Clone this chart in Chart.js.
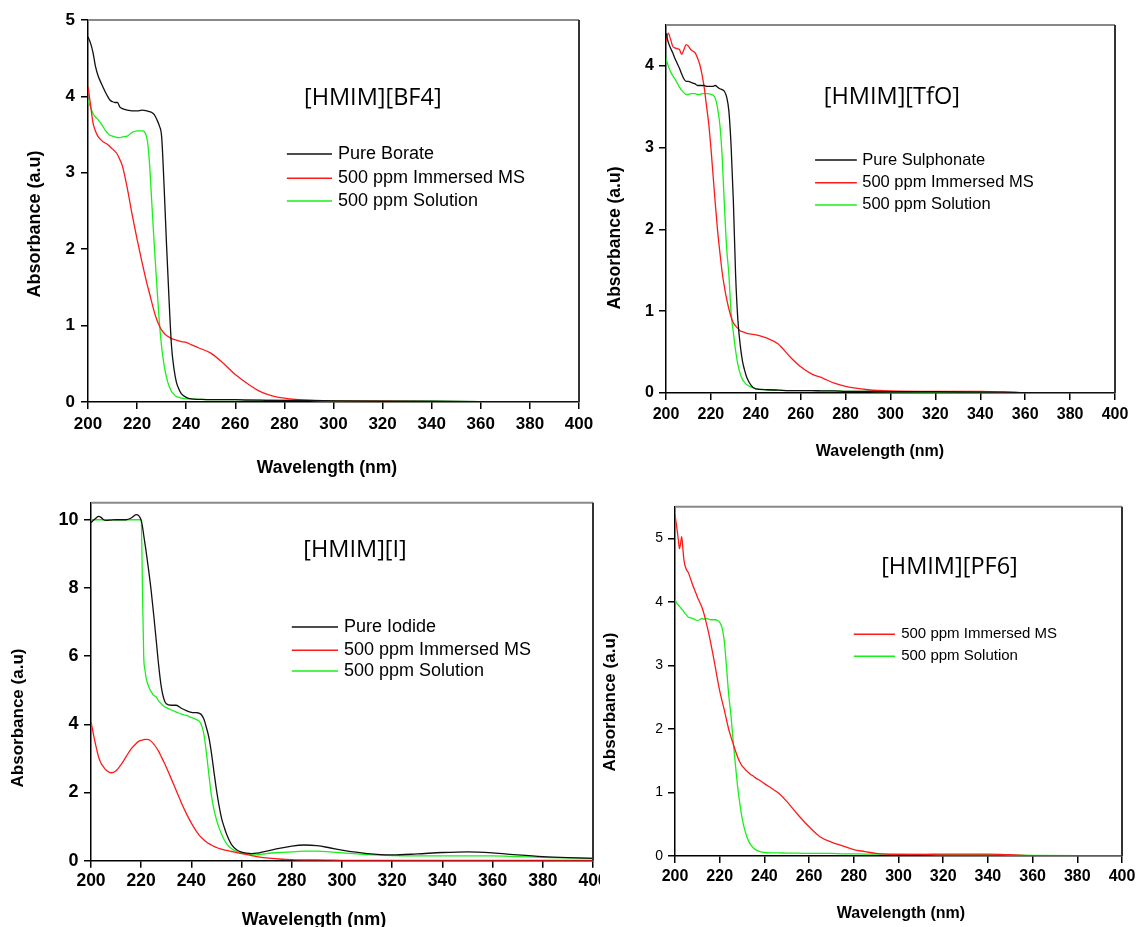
<!DOCTYPE html>
<html>
<head>
<meta charset="utf-8">
<script src="https://cdn.jsdelivr.net/npm/chart.js@4.4.1/dist/chart.umd.min.js"></script>
<style>
html, body { margin: 0; padding: 0; background: #fff; overflow: hidden; }
#page { position: relative; width: 1139px; height: 927px; background: #fff; }
canvas { position: absolute; }
</style>
</head>
<body>
<div id="page">
  <canvas id="c1" width="600" height="480" style="left:0;top:0"></canvas>
  <canvas id="c3" width="600" height="470" style="left:0;top:480px"></canvas>
  <canvas id="c2" width="539" height="480" style="left:600px;top:0;background:#fff"></canvas>
  <canvas id="c4" width="539" height="470" style="left:600px;top:480px;background:#fff"></canvas>
</div>
<script>
// [HMIM][BF4]
const wlBF4 = [200,201,202,203,204,205,206,207,208,209,210,211,212,213,214,216,218,220,222,224,225,226,227,228,229,230,231,232,233,234,235,236,237,238,240,242,245,250,255,260,265,270,275,280,290,300,320,340,360,380,400];
const bf4Pure = [4.78,4.70,4.58,4.40,4.28,4.20,4.13,4.06,4.00,3.95,3.93,3.92,3.92,3.86,3.84,3.82,3.81,3.81,3.82,3.81,3.80,3.79,3.76,3.70,3.62,3.47,2.82,2.05,1.35,0.74,0.44,0.26,0.17,0.11,0.06,0.04,0.035,0.03,0.03,0.03,0.025,0.025,0.02,0.02,0.02,0.015,0.01,0.01,0.005,0.005,0.005];
const bf4MS = [4.13,3.90,3.66,3.55,3.48,3.44,3.41,3.39,3.37,3.34,3.31,3.28,3.24,3.17,3.09,2.80,2.45,2.13,1.83,1.55,1.43,1.30,1.18,1.08,1.00,0.94,0.90,0.87,0.85,0.83,0.82,0.81,0.80,0.79,0.78,0.75,0.71,0.64,0.51,0.36,0.24,0.14,0.08,0.05,0.02,0.01,0.01,0.005,0.005,0.005,0.005];
const bf4Sol = [3.95,3.86,3.78,3.73,3.70,3.66,3.61,3.56,3.52,3.49,3.48,3.47,3.46,3.46,3.47,3.48,3.53,3.55,3.55,3.45,3.15,2.60,2.05,1.55,1.07,0.72,0.48,0.32,0.21,0.14,0.10,0.07,0.06,0.05,0.04,0.04,0.035,0.03,0.03,0.03,0.03,0.025,0.025,0.02,0.02,0.015,0.01,0.01,0.005,0.005,0.005];

// [HMIM][TfO]
const wlTfO = [200,201,202,203,204,205,206,207,208,209,210,211,212,213,214,215,216,217,218,219,220,221,222,223,224,225,226,227,228,229,230,231,232,233,234,235,236,238,240,245,250,255,260,265,270,275,280,290,300,320,340,350,360,380,400];
const tfoPure = [4.40,4.29,4.22,4.16,4.09,4.03,3.97,3.90,3.84,3.81,3.81,3.80,3.79,3.78,3.76,3.76,3.76,3.76,3.75,3.75,3.75,3.75,3.76,3.74,3.72,3.71,3.69,3.62,3.45,3.02,2.35,1.45,0.90,0.60,0.40,0.28,0.19,0.09,0.05,0.04,0.035,0.03,0.03,0.03,0.025,0.025,0.02,0.02,0.015,0.015,0.01,0.01,0.005,0.005,0.005];
const tfoMS = [4.30,4.40,4.33,4.24,4.22,4.21,4.20,4.14,4.20,4.26,4.24,4.20,4.18,4.16,4.10,4.02,3.90,3.74,3.52,3.30,3.00,2.65,2.30,1.98,1.72,1.48,1.30,1.15,1.03,0.93,0.86,0.82,0.79,0.76,0.75,0.74,0.73,0.72,0.71,0.67,0.60,0.45,0.32,0.23,0.18,0.12,0.08,0.04,0.025,0.02,0.02,0.01,0.005,0.005,0.005];
const tfoSol = [4.09,4.00,3.93,3.88,3.84,3.79,3.74,3.70,3.67,3.65,3.65,3.66,3.66,3.66,3.65,3.65,3.66,3.66,3.66,3.66,3.65,3.64,3.60,3.48,3.28,2.90,2.30,1.78,1.45,0.98,0.74,0.52,0.35,0.24,0.17,0.13,0.10,0.07,0.05,0.04,0.035,0.03,0.03,0.03,0.025,0.025,0.02,0.02,0.015,0.01,0.01,0.01,0.005,0.005,0.005];

// [HMIM][I]
const wlI = [200,202,203,204,205,206,208,210,212,214,216,218,219,220,220.5,221,221.5,222,223,224,225,226,227,228,229,230,232,234,236,238,240,242,243,244,245,246,247,248,249,250,251,252,253,254,256,258,260,262,264,266,268,270,275,280,285,290,295,300,310,320,330,340,350,360,370,380,390,400];
const iPure = [9.92,10.05,10.10,10.07,10.00,9.98,9.99,10.00,10.00,10.00,10.05,10.15,10.12,9.98,9.80,9.55,9.30,9.05,8.50,7.90,7.20,6.45,5.70,5.10,4.75,4.60,4.56,4.56,4.47,4.40,4.35,4.34,4.33,4.28,4.15,3.90,3.60,3.15,2.60,2.07,1.62,1.25,1.00,0.78,0.47,0.32,0.25,0.22,0.21,0.22,0.25,0.28,0.36,0.43,0.46,0.44,0.38,0.31,0.21,0.17,0.20,0.24,0.26,0.23,0.17,0.12,0.09,0.07];
const iMS = [4.07,3.35,3.05,2.86,2.75,2.66,2.58,2.64,2.82,3.05,3.28,3.44,3.50,3.53,3.54,3.55,3.56,3.56,3.55,3.50,3.42,3.32,3.20,3.05,2.90,2.74,2.40,2.05,1.70,1.38,1.10,0.86,0.76,0.68,0.61,0.55,0.50,0.46,0.42,0.39,0.36,0.34,0.32,0.30,0.27,0.24,0.21,0.18,0.15,0.12,0.10,0.08,0.05,0.03,0.02,0.02,0.015,0.01,0.01,0.01,0.01,0.01,0.01,0.01,0.01,0.01,0.01,0.01];
const iSol = [10.0,10.0,10.0,10.0,10.0,10.0,10.0,10.0,10.0,10.0,10.0,10.0,10.0,10.0,8.0,6.0,5.6,5.35,5.10,4.95,4.85,4.80,4.68,4.60,4.53,4.49,4.42,4.36,4.30,4.26,4.20,4.14,4.10,3.98,3.70,3.15,2.50,1.90,1.50,1.20,0.97,0.78,0.62,0.50,0.35,0.27,0.23,0.19,0.17,0.17,0.19,0.21,0.24,0.26,0.28,0.28,0.26,0.23,0.18,0.15,0.14,0.14,0.14,0.14,0.12,0.10,0.08,0.07];

// [HMIM][PF6]
const wlPF6 = [200,200.5,201,201.5,202,202.5,203,203.5,204,205,206,207,208,209,210,211,212,213,214,215,216,217,218,219,220,221,222,223,224,225,226,227,228,229,230,231,232,233,234,235,236,238,240,243,246,250,255,260,265,270,275,280,285,290,300,310,320,330,340,350,360,380,400];
const pf6MS = [5.37,5.25,5.12,4.98,4.84,4.92,5.03,4.85,4.66,4.52,4.46,4.36,4.26,4.17,4.08,4.00,3.92,3.81,3.67,3.52,3.35,3.17,2.98,2.78,2.60,2.45,2.31,2.15,2.00,1.88,1.77,1.66,1.56,1.48,1.42,1.38,1.34,1.31,1.28,1.26,1.23,1.19,1.14,1.07,1.00,0.86,0.65,0.46,0.30,0.22,0.16,0.10,0.07,0.04,0.025,0.025,0.03,0.03,0.03,0.02,0.005,0.005,0.005];
const pf6Sol = [4.04,4.00,3.97,3.95,3.93,3.91,3.89,3.87,3.84,3.80,3.76,3.75,3.74,3.72,3.71,3.72,3.74,3.73,3.74,3.73,3.72,3.72,3.72,3.71,3.68,3.60,3.40,3.00,2.55,2.23,1.82,1.45,1.10,0.83,0.60,0.44,0.32,0.23,0.17,0.13,0.10,0.07,0.055,0.05,0.05,0.045,0.045,0.04,0.04,0.04,0.035,0.035,0.03,0.03,0.03,0.025,0.02,0.02,0.02,0.015,0.01,0.005,0.005];

const SANS = '"Liberation Sans", Arial, sans-serif';
const TITLE_FONT = '23.5px "Open Sans", sans-serif';
const BLACK = '#111111', RED = '#ff1a1a', GREEN = '#19f019';

// frame, in-plot title, legend and axis titles
const panelDecor = {
  id: 'panelDecor',
  afterDraw(chart, args, o) {
    const { ctx, chartArea: a } = chart;
    const w = a.right - a.left, h = a.bottom - a.top;
    ctx.save();
    ctx.lineWidth = 2;
    ctx.strokeStyle = '#888';
    ctx.beginPath(); ctx.moveTo(a.left, a.top); ctx.lineTo(a.right, a.top); ctx.stroke();
    ctx.strokeStyle = '#333';
    ctx.beginPath(); ctx.moveTo(a.right, a.top); ctx.lineTo(a.right, a.bottom); ctx.stroke();

    ctx.fillStyle = '#000';
    ctx.textAlign = 'center';
    ctx.textBaseline = 'middle';
    ctx.font = TITLE_FONT;
    ctx.fillText(o.title, a.left + o.titleAt[0] * w, a.top + o.titleAt[1] * h);

    ctx.font = 'bold ' + o.xTitleSize + 'px ' + SANS;
    ctx.fillText('Wavelength (nm)', o.xTitleAt[0], o.xTitleAt[1]);
    ctx.save();
    ctx.translate(o.yTitleAt[0], o.yTitleAt[1]);
    ctx.rotate(-Math.PI / 2);
    ctx.font = 'bold ' + o.yTitleSize + 'px ' + SANS;
    ctx.fillText('Absorbance (a.u)', 0, 0);
    ctx.restore();

    ctx.font = o.legendSize + 'px ' + SANS;
    ctx.textAlign = 'left';
    chart.data.datasets.forEach((ds, i) => {
      const y = a.top + o.legendRows[i] * h;
      ctx.strokeStyle = ds.borderColor;
      ctx.lineWidth = 1.5;
      ctx.beginPath();
      ctx.moveTo(a.left + o.legendLine[0] * w, y);
      ctx.lineTo(a.left + o.legendLine[1] * w, y);
      ctx.stroke();
      ctx.fillText(ds.label, a.left + o.legendText * w, y);
    });
    ctx.restore();
  }
};

function series(wl, vals) {
  return wl.map((x, i) => ({ x: x, y: vals[i] }));
}

function line(label, color, wl, vals) {
  return {
    label: label,
    data: series(wl, vals),
    borderColor: color,
    borderWidth: 1.3,
    pointRadius: 0,
    cubicInterpolationMode: 'monotone',
    fill: false
  };
}

function noPad(s) {
  s.paddingLeft = 0; s.paddingRight = 0; s.paddingTop = 0; s.paddingBottom = 0;
}

function makePanel(id, datasets, p) {
  new Chart(document.getElementById(id), {
    type: 'line',
    data: { datasets: datasets },
    plugins: [panelDecor],
    options: {
      responsive: false,
      animation: false,
      devicePixelRatio: 1,
      layout: { padding: p.pad },
      plugins: {
        legend: { display: false },
        tooltip: { enabled: false },
        panelDecor: p.decor
      },
      scales: {
        x: {
          type: 'linear', min: 200, max: 400,
          ticks: { stepSize: 20, autoSkip: false, maxRotation: 0, color: '#000', padding: p.xTickPad,
                   font: { family: SANS, size: p.xTickSize, weight: 'bold' } },
          grid: { drawOnChartArea: false, drawTicks: true, tickLength: 7, color: '#000', lineWidth: 1.5 },
          border: { color: '#000', width: 1.5 },
          afterFit: s => { s.height = p.xHeight; noPad(s); }
        },
        y: {
          type: 'linear', min: 0, max: p.yMax,
          ticks: { stepSize: p.yStep, includeBounds: false, color: '#000', padding: p.yTickPad,
                   font: { family: SANS, size: p.yTickSize, weight: p.yTickWeight } },
          grid: { drawOnChartArea: false, drawTicks: true, tickLength: 7, color: '#000', lineWidth: 1.5 },
          border: { color: '#000', width: 1.5 },
          afterFit: s => { s.width = p.yWidth; noPad(s); }
        }
      }
    }
  });
}

makePanel('c1', [
  line('Pure Borate', BLACK, wlBF4, bf4Pure),
  line('500 ppm Immersed MS', RED, wlBF4, bf4MS),
  line('500 ppm Solution', GREEN, wlBF4, bf4Sol)
], {
  pad: { left: 24, top: 20, right: 21, bottom: 1.5 },
  xHeight: 76.5, yWidth: 64, yMax: 5, yStep: 1,
  xTickPad: 5, yTickPad: 6, xTickSize: 17, yTickSize: 17, yTickWeight: 'bold',
  decor: { title: '[HMIM][BF4]', titleAt: [0.58, 0.204],
           xTitleSize: 17.5, xTitleAt: [327, 468], yTitleSize: 18, yTitleAt: [35, 224],
           legendSize: 18, legendLine: [0.405, 0.497], legendText: 0.509, legendRows: [0.351, 0.414, 0.474] }
});

makePanel('c2', [
  line('Pure Sulphonate', BLACK, wlTfO, tfoPure),
  line('500 ppm Immersed MS', RED, wlTfO, tfoMS),
  line('500 ppm Solution', GREEN, wlTfO, tfoSol)
], {
  pad: { left: 5, top: 25, right: 24, bottom: 18.4 },
  xHeight: 68.6, yWidth: 61, yMax: 4.5, yStep: 1,
  xTickPad: 5, yTickPad: 5, xTickSize: 16, yTickSize: 16, yTickWeight: 'bold',
  decor: { title: '[HMIM][TfO]', titleAt: [0.503, 0.196],
           xTitleSize: 16, xTitleAt: [280, 452], yTitleSize: 17.5, yTitleAt: [15.5, 238],
           legendSize: 16.5, legendLine: [0.332, 0.425], legendText: 0.437, legendRows: [0.367, 0.429, 0.489] }
});

makePanel('c3', [
  line('Pure Iodide', BLACK, wlI, iPure),
  line('500 ppm Immersed MS', RED, wlI, iMS),
  line('500 ppm Solution', GREEN, wlI, iSol)
], {
  pad: { left: 8, top: 22.7, right: 7, bottom: 19.2 },
  xHeight: 70.1, yWidth: 83, yMax: 10.5, yStep: 2,
  xTickPad: 2.5, yTickPad: 5.5, xTickSize: 17.5, yTickSize: 18, yTickWeight: 'bold',
  decor: { title: '[HMIM][I]', titleAt: [0.526, 0.132],
           xTitleSize: 18, xTitleAt: [314, 440], yTitleSize: 17, yTitleAt: [18.4, 238],
           legendSize: 18, legendLine: [0.40, 0.492], legendText: 0.504, legendRows: [0.347, 0.412, 0.470] }
});

makePanel('c4', [
  line('500 ppm Immersed MS', RED, wlPF6, pf6MS),
  line('500 ppm Solution', GREEN, wlPF6, pf6Sol)
], {
  pad: { left: 0, top: 26.7, right: 17, bottom: 26.4 },
  xHeight: 67.6, yWidth: 75, yMax: 5.5, yStep: 1,
  xTickPad: 4, yTickPad: 5, xTickSize: 16, yTickSize: 14, yTickWeight: 'normal',
  decor: { title: '[HMIM][PF6]', titleAt: [0.614, 0.173],
           xTitleSize: 16, xTitleAt: [301, 434], yTitleSize: 17, yTitleAt: [10.5, 222],
           legendSize: 15, legendLine: [0.40, 0.492], legendText: 0.506, legendRows: [0.365, 0.428] }
});
</script>
</body>
</html>
